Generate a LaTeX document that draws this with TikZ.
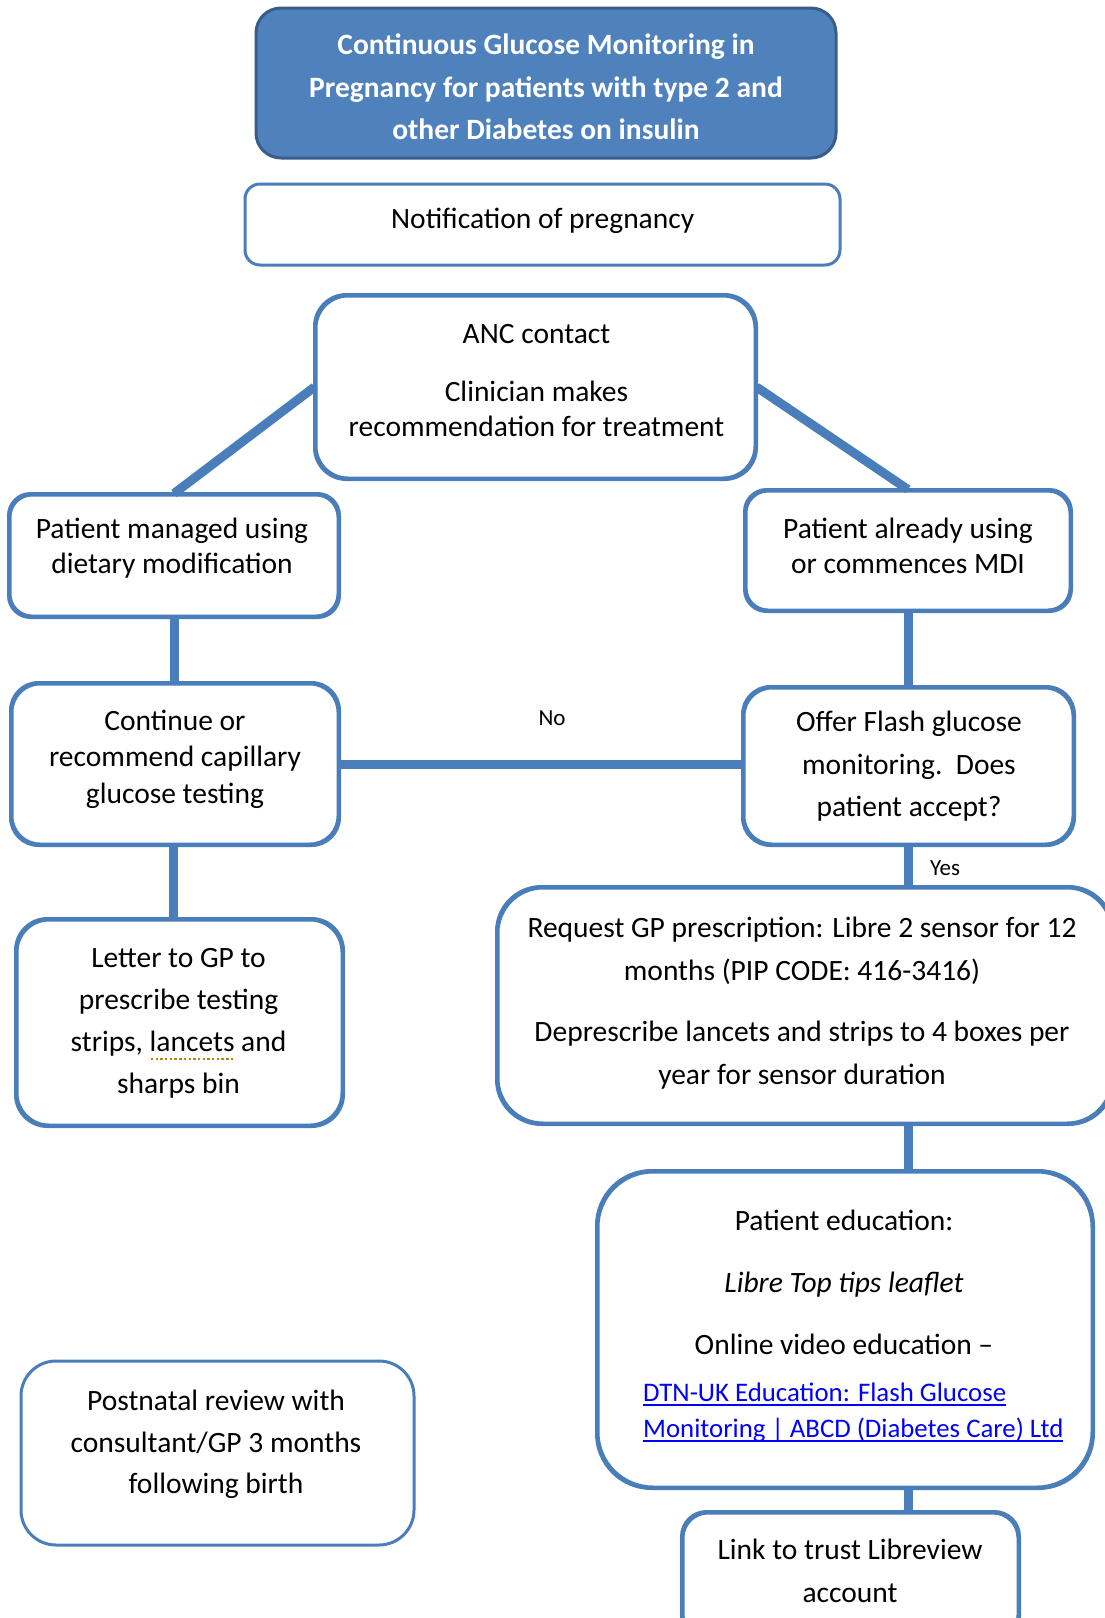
\documentclass[tikz,border=0pt]{standalone}
\usepackage{fontspec}
\setmainfont{Carlito}
\definecolor{bordc}{RGB}{74,126,187}
\definecolor{titlefill}{RGB}{79,129,189}
\definecolor{titlebord}{RGB}{56,93,138}
\definecolor{linkc}{RGB}{0,0,255}
\definecolor{squigc}{RGB}{184,134,11}
\newsavebox\myulbox
\newcommand\myul[1]{\sbox\myulbox{#1}\rlap{\rule[-4.5pt]{\wd\myulbox}{1.6pt}}\usebox\myulbox}
\newcommand\squig[1]{\sbox\myulbox{#1}\rlap{\textcolor{squigc}{\raisebox{-9pt}{\hbox to \wd\myulbox{\xleaders\hbox to 4.5pt{\hss\rule{2.4pt}{2.4pt}\hss}\hfill}}}}\usebox\myulbox}
\tikzset{
  box/.style={draw=bordc, line width=3pt, fill=white, rounded corners=#1, inner sep=0pt},
  box/.default=25pt,
  conn/.style={draw=bordc, line width=9pt},
  txt/.style={align=center, inner sep=0pt, font=\fontsize{29.5}{#1}\selectfont},
  txt/.default=35pt,
  lbl/.style={inner sep=0pt, font=\fontsize{23}{27}\selectfont}
}
\begin{document}
\begin{tikzpicture}[x=1pt,y=-1pt]
\useasboundingbox (0,0) rectangle (1105,1618);
\clip (0,0) rectangle (1105,1618);
\fill[white] (0,0) rectangle (1105,1618);

% boxes (positions)
\coordinate (ptitle) at (546,83);
\coordinate (pnotif) at (542.5,224.5);
\coordinate (panc) at (535.5,387);
\coordinate (pdiet) at (174,555.5);
\coordinate (pmdi) at (908,550.5);
\coordinate (pcont) at (175,764);
\coordinate (poffer) at (908.5,766);
\coordinate (pletter) at (179.5,1022.5);
\coordinate (preq) at (805,1005.5);
\coordinate (pedu) at (845,1329.5);
\coordinate (ppost) at (217.5,1453);
\coordinate (plink) at (850.5,1576.5);

\node[box=25pt, draw=titlebord, fill=titlefill, minimum width=580pt, minimum height=150pt] (title) at (ptitle) {};
\node[box=15pt, minimum width=595pt, minimum height=81pt] (notif) at (pnotif) {};
\node[box=32pt, minimum width=439pt, minimum height=182pt] (anc) at (panc) {};
\node[box=22pt, minimum width=328pt, minimum height=121pt] (diet) at (pdiet) {};
\node[box=22pt, minimum width=324pt, minimum height=119pt] (mdi) at (pmdi) {};
\node[box=28pt, minimum width=326pt, minimum height=160pt] (cont) at (pcont) {};
\node[box=28pt, minimum width=329pt, minimum height=156pt] (offer) at (poffer) {};
\node[box=32pt, minimum width=325pt, minimum height=205pt] (letter) at (pletter) {};
\node[box=45pt, minimum width=614pt, minimum height=235pt] (req) at (preq) {};
\node[box=55pt, minimum width=494pt, minimum height=315pt] (edu) at (pedu) {};
\node[box=35pt, minimum width=393pt, minimum height=184pt] (post) at (ppost) {};
\node[box=25pt, minimum width=335pt, minimum height=127pt] (link) at (plink) {};

% connectors
\draw[conn] (anc.west) -- (diet.north);
\draw[conn] (anc.east) -- (mdi.north);
\draw[conn] (diet.south) -- (diet.south |- cont.north);
\draw[conn] (cont.south) ++(-2,0) coordinate (cs) -- (cs |- letter.north);
\draw[conn] (mdi.south) -- (mdi.south |- offer.north);
\draw[conn] (cont.east) -- (cont.east -| offer.west);
\draw[conn] (offer.south) -- (offer.south |- req.north);
\draw[conn] (req.south -| offer.south) -- (edu.north -| offer.south);
\draw[conn] (edu.south -| offer.south) -- (link.north -| offer.south);

% redraw box outlines over connector ends
\foreach \n/\r in {anc/32pt,diet/22pt,mdi/22pt,cont/28pt,offer/28pt,letter/32pt,req/45pt,edu/55pt,link/25pt}{
  \draw[draw=bordc, line width=3pt, rounded corners=\r] (\n.north west) rectangle (\n.south east);
}

% texts
\node[txt=42.3pt, text=white, font=\fontsize{29.5}{42.3}\selectfont\bfseries] (ttitle) at (546,87)
  {Continuous Glucose Monitoring in\\Pregnancy for patients with type 2 and\\other Diabetes on insulin};
\node[txt] (tnotif) at (542.7,221) {Notification of pregnancy};
\node[txt=35pt] (tanc) at (536.5,380.5) {ANC contact\\[23pt]Clinician makes\\recommendation for treatment};
\node[txt=35pt] (tdiet) at (172,548.5) {Patient managed using\\dietary modification};
\node[txt=35pt] (tmdi) at (908,545.5) {Patient already using\\or commences MDI};
\node[txt=36.5pt] (tcont) at (175,759) {Continue or\\recommend capillary\\glucose testing};
\node[txt=42.5pt] (toffer) at (909,766.5) {Offer Flash glucose\\monitoring.\ \ Does\\patient accept?};
\node[txt=42pt] (tletter) at (178.5,1023) {Letter to GP to\\prescribe testing\\strips, \squig{lancets} and\\sharps bin};
\node[txt=43pt] (treq) at (802,1003.5) {Request GP prescription: Libre 2 sensor for 12\\months (PIP CODE: 416-3416)\\[18pt]Deprescribe lancets and strips to 4 boxes per\\year for sensor duration};
\node[txt=62pt] (tedu) at (844,1282) {Patient education:\\\textit{Libre Top tips leaflet}\\Online video education --};
\node[txt=36pt, align=left, anchor=west, text=linkc, font=\fontsize{26.8}{36}\selectfont] (tedulink) at (643,1412)
  {\myul{DTN-UK Education: Flash Glucose}\\\myul{Monitoring | ABCD (Diabetes Care) Ltd}};
\node[txt=41.5pt] (tpost) at (216,1444.5) {Postnatal review with\\consultant/GP 3 months\\following birth};
\node[txt=43pt] (tlink) at (850,1570.5) {Link to trust Libreview\\account};
\node[lbl] (lno) at (552,718) {No};
\node[lbl] (lyes) at (945,868) {Yes};
\end{tikzpicture}
\end{document}
